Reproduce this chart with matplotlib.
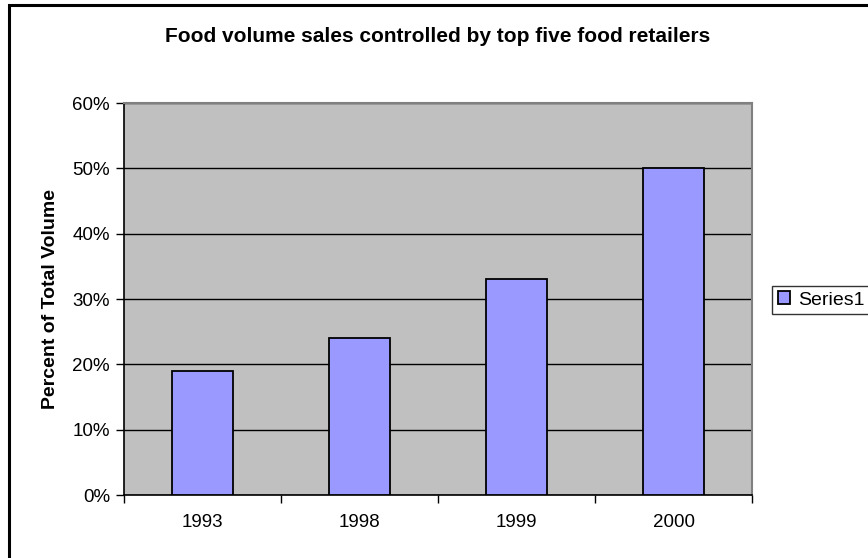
import matplotlib
matplotlib.use('Agg')
import matplotlib.pyplot as plt
from matplotlib.patches import Rectangle
from matplotlib.ticker import FixedLocator

years = ['1993', '1998', '1999', '2000']
share = [19, 24, 33, 50]
yticks = [0, 10, 20, 30, 40, 50, 60]

plt.rcParams['font.family'] = ['Liberation Sans', 'DejaVu Sans']

fig = plt.figure(figsize=(8.68, 5.58), dpi=100)
ax = fig.add_axes([124/868, 1 - 495/558, (752 - 124)/868, (495 - 103)/558])

x = list(range(len(years)))
ax.bar(x, share, width=0.39, color='#9999FF', edgecolor='black', linewidth=1.3,
       label='Series1', zorder=3)

ax.set_facecolor('#C0C0C0')
ax.set_xlim(-0.5, len(years) - 0.5)
ax.set_ylim(0, 60)
ax.set_yticks(yticks)
ax.set_yticklabels([f'{v}%' for v in yticks], fontsize=13.5)
ax.yaxis.grid(True, color='black', linewidth=1, zorder=1)
ax.set_axisbelow(True)

ax.set_xticks(x)
ax.set_xticklabels(years, fontsize=13.5)
ax.tick_params(axis='x', which='major', length=0, pad=14)
ax.xaxis.set_minor_locator(FixedLocator([i + 0.5 for i in range(len(years) - 1)] + [-0.5, len(years) - 0.5]))
ax.tick_params(axis='x', which='minor', length=6, width=1, color='black')
ax.tick_params(axis='y', length=6, width=1, color='black', pad=4)

for side in ['top', 'right']:
    ax.spines[side].set_color('#808080')
    ax.spines[side].set_linewidth(1.5)
ax.spines['left'].set_color('black')
ax.spines['bottom'].set_color('black')
ax.spines['left'].set_linewidth(1.2)
ax.spines['bottom'].set_linewidth(1.2)

ax.set_ylabel('Percent of Total Volume', fontsize=14, fontweight='bold', labelpad=10)

fig.text(438/868, 1 - 36/558, 'Food volume sales controlled by top five food retailers',
         ha='center', va='center', fontsize=15, fontweight='bold')

leg = fig.legend(loc='center left', bbox_to_anchor=(772/868, 1 - 300/558),
                 fontsize=14, frameon=True, fancybox=False, edgecolor='black',
                 handlelength=0.65, handleheight=0.65, handletextpad=0.4,
                 borderpad=0.3, borderaxespad=0)
leg.get_frame().set_linewidth(1)

# outer chart border (runs off the right and bottom edges)
fig.patches.append(Rectangle((9/868, -0.1), 1.2, 1 - 5/558 + 0.1, transform=fig.transFigure,
                             fill=False, edgecolor='black', linewidth=2.2))

fig.savefig('out.png', dpi=100)
